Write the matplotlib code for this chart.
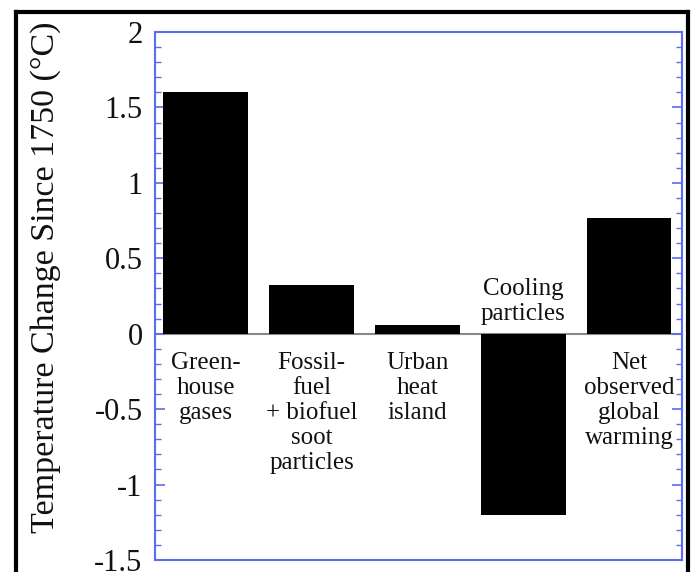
import matplotlib.pyplot as plt
from matplotlib.lines import Line2D
from matplotlib.ticker import MultipleLocator

categories = ['Green-\nhouse\ngases', 'Fossil-\nfuel\n+ biofuel\nsoot\nparticles',
              'Urban\nheat\nisland', 'Cooling\nparticles', 'Net\nobserved\nglobal\nwarming']
values = [1.60, 0.32, 0.06, -1.20, 0.77]
yticks = [2, 1.5, 1, 0.5, 0, -0.5, -1, -1.5]
ytick_labels = ['2', '1.5', '1', '0.5', '0', '-0.5', '-1', '-1.5']

plt.rcParams['font.family'] = ['Liberation Serif', 'DejaVu Serif']
blue = '#5a6cf2'

fig = plt.figure(figsize=(6.93, 5.72), dpi=100)
ax = fig.add_axes([0.2237, 0.021, 0.7605, 0.923])

x = list(range(len(values)))
ax.axhline(0, color='#888888', lw=1.5, zorder=1)
ax.bar(x, values, width=0.8, color='black', zorder=2)

for i, (lab, v) in enumerate(zip(categories, values)):
    if v >= 0:
        ax.text(i, -0.12, lab, ha='center', va='top', fontsize=18,
                linespacing=1.18, color='#111111')
    else:
        ax.text(i, 0.06, lab, ha='center', va='bottom', fontsize=18,
                linespacing=1.18, color='#111111')

ax.set_xlim(-0.48, 4.5)
ax.set_ylim(-1.5, 2)
ax.set_xticks([])
ax.set_yticks(yticks)
ax.set_yticklabels(ytick_labels)
ax.yaxis.set_minor_locator(MultipleLocator(0.1))
ax.tick_params(axis='y', which='both', direction='in', colors=blue,
               labelcolor='#111111', labelsize=22, left=True, right=True, pad=9)
ax.tick_params(axis='y', which='major', length=7, width=1.2)
ax.tick_params(axis='y', which='minor', length=4, width=1.0)
for s in ax.spines.values():
    s.set_color(blue)
    s.set_linewidth(1.5)

fig.text(0.066, 0.515, 'Temperature Change Since 1750 (°C)', rotation=90,
         ha='center', va='center', fontsize=24.5, color='#111111')

# outer black frame (bottom is cut off)
lw = 3
fig.add_artist(Line2D([16/693, 16/693], [0, 1 - 12/572], color='black', lw=lw))
fig.add_artist(Line2D([16/693, 688/693], [1 - 12/572, 1 - 12/572], color='black', lw=lw))
fig.add_artist(Line2D([688/693, 688/693], [0, 1 - 12/572], color='black', lw=lw))

plt.savefig('out.png', dpi=100)
